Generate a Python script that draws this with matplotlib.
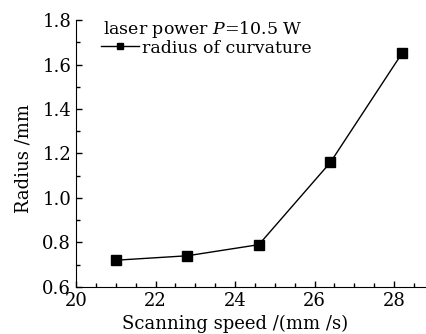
import matplotlib.pyplot as plt
from matplotlib.ticker import MultipleLocator

speed = [21.0, 22.8, 24.6, 26.4, 28.2]
radius = [0.72, 0.74, 0.79, 1.16, 1.65]

plt.rcParams['font.family'] = ['DejaVu Serif']
plt.rcParams['mathtext.fontset'] = 'dejavuserif'

fig = plt.figure(figsize=(4.27, 3.34), dpi=100)
ax = fig.add_axes([0.178, 0.141, 0.822, 0.799])

ax.plot(speed, radius, color='black', lw=1, marker='s', ms=7,
        label='radius of curvature')

ax.set_xlim(20, 28.83)
ax.set_ylim(0.6, 1.8)
ax.xaxis.set_major_locator(MultipleLocator(2))
ax.xaxis.set_minor_locator(MultipleLocator(0.5))
ax.yaxis.set_major_locator(MultipleLocator(0.2))
ax.yaxis.set_minor_locator(MultipleLocator(0.1))
ax.tick_params(which='both', direction='in', labelsize=13, width=1)
ax.tick_params(which='major', length=4)
ax.tick_params(which='minor', length=3)
ax.spines['top'].set_visible(False)
ax.spines['right'].set_visible(False)

ax.set_xlabel('Scanning speed /(mm /s)', fontsize=13)
ax.xaxis.set_label_coords(0.453, -0.105)
ax.set_ylabel('Radius /mm', fontsize=13)
ax.yaxis.set_label_coords(-0.125, 0.48)

ax.text(0.077, 0.963, r'laser power $P$=10.5 W', transform=ax.transAxes,
        fontsize=12.5, va='center')
ax.legend(loc='center left', bbox_to_anchor=(0.07, 0.895), frameon=False,
          fontsize=12.5, handlelength=2.2, handletextpad=0.2, borderpad=0,
          borderaxespad=0, markerscale=0.6)

fig.savefig('out.png', dpi=100)
